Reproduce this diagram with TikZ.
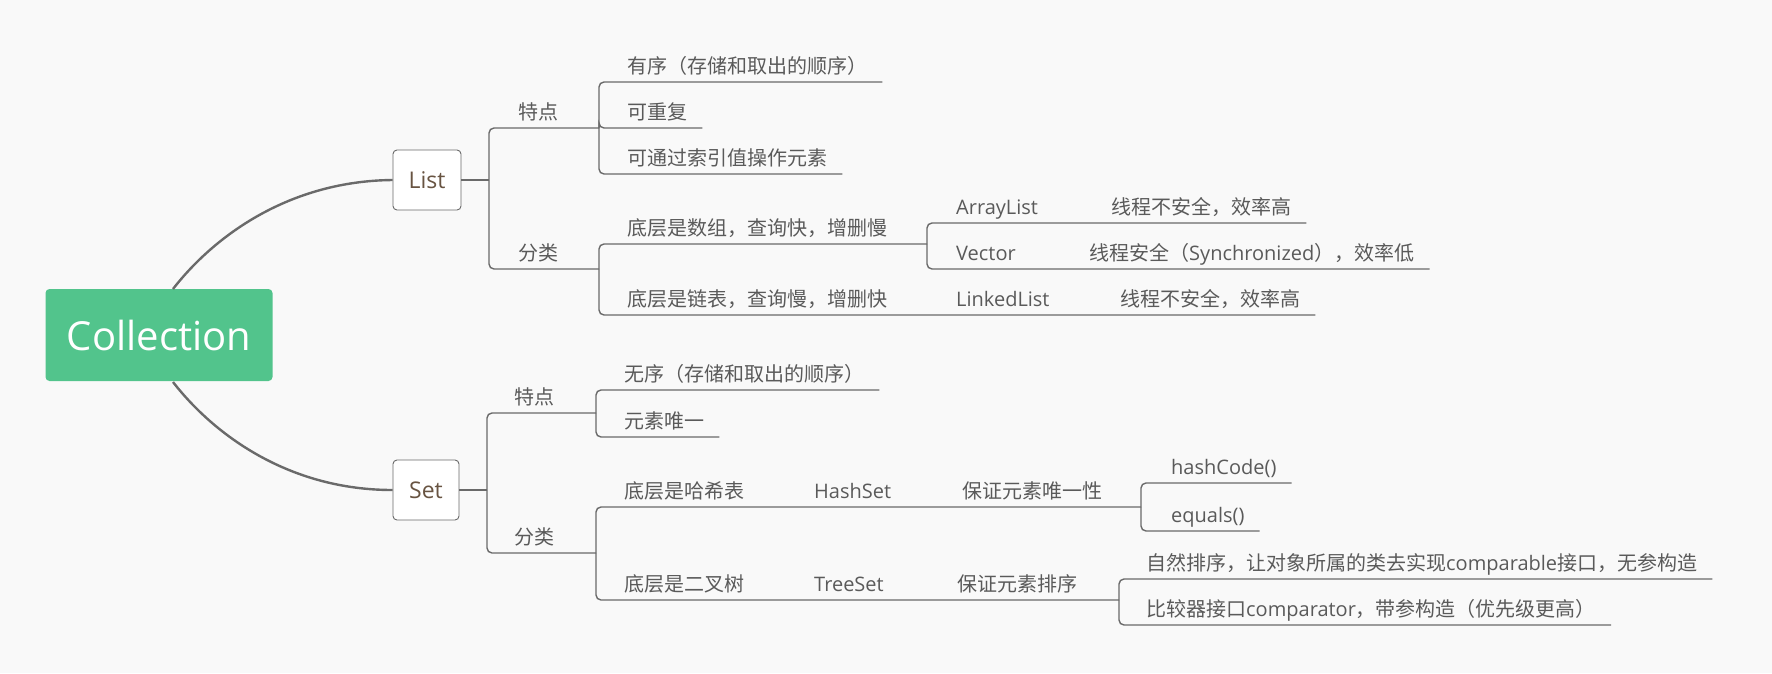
\documentclass[tikz,border=0pt]{standalone}
\usepackage{fontspec}
\setmainfont{Open Sans}
\newfontfamily\zhfont{Noto Sans CJK SC}
\newcommand\zh[1]{{\zhfont #1}}
\definecolor{bgcol}{RGB}{249,249,249}
\definecolor{linecol}{RGB}{106,106,106}
\definecolor{textcol}{RGB}{90,90,90}
\definecolor{rootcol}{RGB}{82,196,140}
\definecolor{boxtext}{RGB}{104,84,66}
\begin{document}
\begin{tikzpicture}[x=1pt,y=-1pt,
  topic/.style={anchor=south west,inner sep=0pt,text height=16pt,text depth=8pt,
    text=textcol,font=\fontsize{20}{20}\selectfont},
  branch/.style={draw=linecol,line width=1.4pt,rounded corners=5pt},
  box/.style={draw=linecol,fill=white,rounded corners=4pt,line width=0.9pt,
    minimum height=60pt,text=boxtext,font=\fontsize{23}{23}\selectfont}]
  \fill[bgcol] (0,0) rectangle (1772,673);
  \useasboundingbox (0,0) rectangle (1772,673);
  % root and main boxes
  \node(coll)[fill=rootcol,rounded corners=4pt,minimum width=227pt,minimum height=92pt,
    text=white,font=\fontsize{40}{40}\selectfont] at (159,335) {Collection};
  \node(list)[box,minimum width=68pt] at (427,180) {List};
  \node(set)[box,minimum width=66pt] at (426,490) {Set};
  \draw[draw=linecol,line width=2.4pt] (173,289) .. controls (215,235) and (290,181) .. (list.west);
  \draw[draw=linecol,line width=2.4pt] (173,382) .. controls (215,436) and (290,490) .. (set.west);
  % bracket points
  \coordinate(bL) at (489,180);
  \coordinate(bLt) at (599,128);
  \coordinate(bLf) at (599,269);
  \coordinate(bA) at (927,244);
  \coordinate(bS) at (487,490);
  \coordinate(bSt) at (596,413);
  \coordinate(bSf) at (596,553);
  \coordinate(bH) at (1141,507);
  \coordinate(bT) at (1119,600);
  % List
  \node(ltd)[topic] at (518,128) {\zh{特点}};
  \node(lfl)[topic] at (518,269) {\zh{分类}};
  \node(lyx)[topic] at (627,82) {\zh{有序（存储和取出的顺序）}};
  \node(lcf)[topic] at (627,128) {\zh{可重复}};
  \node(lsy)[topic] at (627,174) {\zh{可通过索引值操作元素}};
  \node(lsz)[topic] at (627,244) {\zh{底层是数组，查询快，增删慢}};
  \node(llb)[topic] at (627,315) {\zh{底层是链表，查询慢，增删快}};
  \node(al)[topic] at (956,223) {ArrayList};
  \node(aldesc)[topic] at (1111,223) {\zh{线程不安全，效率高}};
  \node(vec)[topic] at (956,269) {Vector};
  \node(vecdesc)[topic] at (1089,269) {\zh{线程安全（}Synchronized\zh{），效率低}};
  \node(ll)[topic] at (956,315) {LinkedList};
  \node(lldesc)[topic] at (1120,315) {\zh{线程不安全，效率高}};
  \draw[branch] (list.east) -- (bL);
  \draw[branch] (bL) |- (ltd.south west) -- (bLt);
  \draw[branch] (bL) |- (lfl.south west) -- (bLf);
  \draw[branch] (bLt) |- (lyx.south west) -- ([xshift=15pt]lyx.south east);
  \draw[branch] (bLt) |- (lcf.south west) -- ([xshift=15pt]lcf.south east);
  \draw[branch] (bLt) |- (lsy.south west) -- ([xshift=15pt]lsy.south east);
  \draw[branch] (bLf) |- (lsz.south west) -- (bA);
  \draw[branch] (bLf) |- (llb.south west) -- (ll.south west) -- (lldesc.south west)
    -- ([xshift=15pt]lldesc.south east);
  \draw[branch] (bA) |- (al.south west) -- (aldesc.south west) -- ([xshift=15pt]aldesc.south east);
  \draw[branch] (bA) |- (vec.south west) -- (vecdesc.south west) -- ([xshift=15pt]vecdesc.south east);
  % Set
  \node(std)[topic] at (514,413) {\zh{特点}};
  \node(sfl)[topic] at (514,553) {\zh{分类}};
  \node(swx)[topic] at (624,390) {\zh{无序（存储和取出的顺序）}};
  \node(swy)[topic] at (624,437) {\zh{元素唯一}};
  \node(shx)[topic] at (624,507) {\zh{底层是哈希表}};
  \node(hs)[topic] at (814,507) {HashSet};
  \node(hsdesc)[topic] at (962,507) {\zh{保证元素唯一性}};
  \node(hc)[topic] at (1171,483) {hashCode()};
  \node(eq)[topic] at (1171,531) {equals()};
  \node(sec)[topic] at (624,600) {\zh{底层是二叉树}};
  \node(ts)[topic] at (814,600) {TreeSet};
  \node(tsdesc)[topic] at (957,600) {\zh{保证元素排序}};
  \node(nat)[topic] at (1146,579) {\zh{自然排序，让对象所属的类去实现}comparable\zh{接口，无参构造}};
  \node(cmp)[topic] at (1146,625) {\zh{比较器接口}comparator\zh{，带参构造（优先级更高）}};
  \draw[branch] (set.east) -- (bS);
  \draw[branch] (bS) |- (std.south west) -- (bSt);
  \draw[branch] (bS) |- (sfl.south west) -- (bSf);
  \draw[branch] (bSt) |- (swx.south west) -- ([xshift=15pt]swx.south east);
  \draw[branch] (bSt) |- (swy.south west) -- ([xshift=15pt]swy.south east);
  \draw[branch] (bSf) |- (shx.south west) -- (hs.south west) -- (hsdesc.south west) -- (bH);
  \draw[branch] (bSf) |- (sec.south west) -- (ts.south west) -- (tsdesc.south west) -- (bT);
  \draw[branch] (bH) |- (hc.south west) -- ([xshift=15pt]hc.south east);
  \draw[branch] (bH) |- (eq.south west) -- ([xshift=15pt]eq.south east);
  \draw[branch] (bT) |- (nat.south west) -- ([xshift=15pt]nat.south east);
  \draw[branch] (bT) |- (cmp.south west) -- ([xshift=15pt]cmp.south east);
\end{tikzpicture}
\end{document}
